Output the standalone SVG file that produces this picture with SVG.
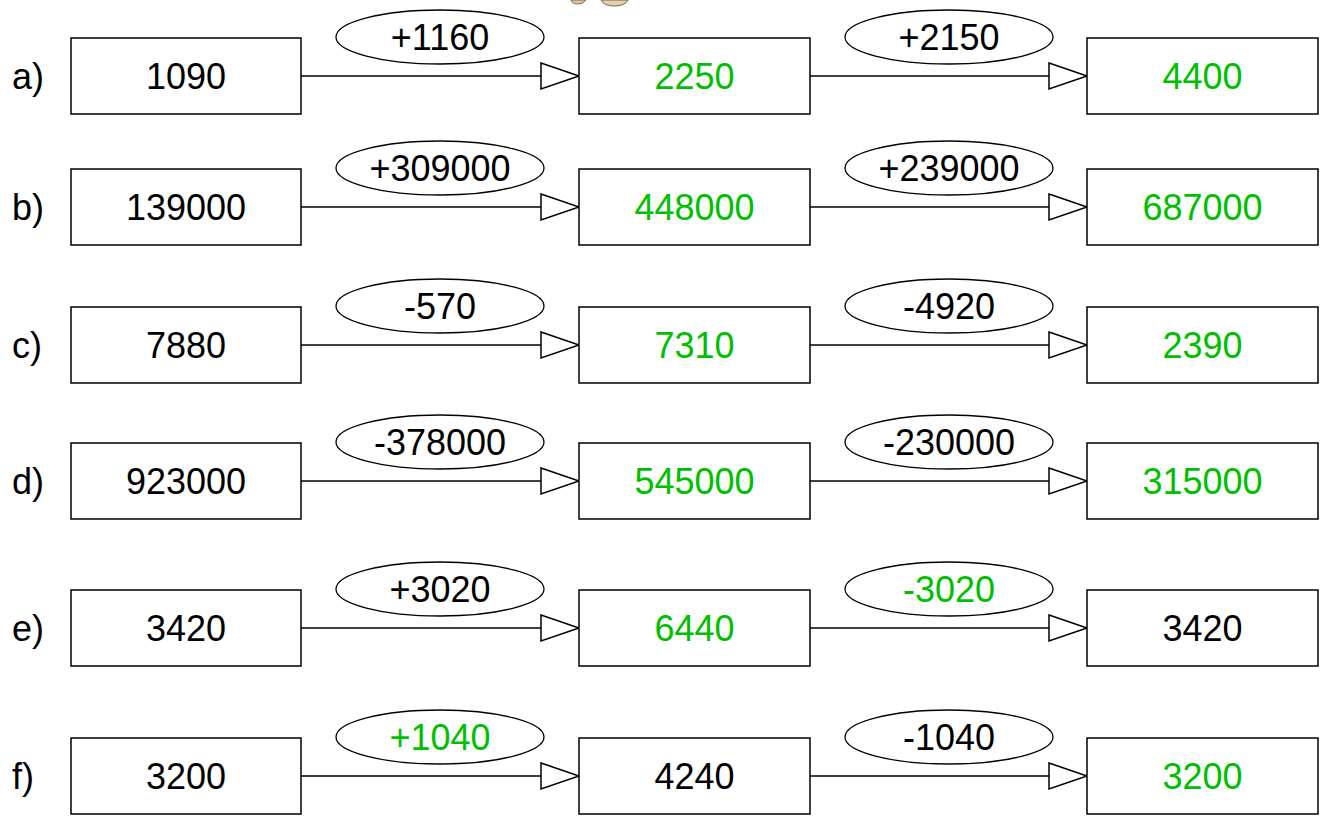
<svg xmlns="http://www.w3.org/2000/svg" width="1326" height="820" viewBox="0 0 1326 820">
<style>
text{font-family:"Liberation Sans",Arial,sans-serif;font-size:36px;fill:#000}
.c{text-anchor:middle}
.g{fill:#00bf00}
.box{fill:#fff;stroke:#000;stroke-width:1.5}
.op{fill:#fff;stroke:#000;stroke-width:1.3}
.ln{stroke:#000;stroke-width:1.5;fill:none;marker-end:url(#tri)}
</style>
<defs>
<marker id="tri" markerUnits="userSpaceOnUse" markerWidth="42" markerHeight="30" refX="39" refY="14" orient="auto">
<path d="M1,1 L39,14 L1,27 Z" fill="#fff" stroke="#000" stroke-width="1.5"/>
</marker>
</defs>
<rect width="1326" height="820" fill="#fff"/>
<g id="clipart">
<path d="M571,0 L586,0 Q584,4 578,4 Q572,4 571,0 Z" fill="#d9c7a2" stroke="#6b5a45" stroke-width="0.8"/>
<path d="M601,0 L628,0 Q625,6 614,6 Q604,6 601,0 Z" fill="#e3d1ac" stroke="#5a4a38" stroke-width="0.8"/>
</g>
<g id="connectors">
<line class="ln" x1="301" y1="76" x2="579" y2="76"/>
<line class="ln" x1="810" y1="76" x2="1087" y2="76"/>
<line class="ln" x1="301" y1="207" x2="579" y2="207"/>
<line class="ln" x1="810" y1="207" x2="1087" y2="207"/>
<line class="ln" x1="301" y1="345" x2="579" y2="345"/>
<line class="ln" x1="810" y1="345" x2="1087" y2="345"/>
<line class="ln" x1="301" y1="481" x2="579" y2="481"/>
<line class="ln" x1="810" y1="481" x2="1087" y2="481"/>
<line class="ln" x1="301" y1="628" x2="579" y2="628"/>
<line class="ln" x1="810" y1="628" x2="1087" y2="628"/>
<line class="ln" x1="301" y1="776" x2="579" y2="776"/>
<line class="ln" x1="810" y1="776" x2="1087" y2="776"/>
</g>
<g id="labels">
<text x="12" y="89">a)</text>
<text x="12" y="220">b)</text>
<text x="12" y="358">c)</text>
<text x="12" y="494">d)</text>
<text x="12" y="641">e)</text>
<text x="12" y="789">f)</text>
</g>
<g id="row-a">
<g id="a1"><rect class="box" x="71" y="38" width="230" height="76"/><text class="c" x="186" y="89">1090</text></g>
<g id="a-op1"><ellipse class="op" cx="440" cy="37" rx="104" ry="27"/><text class="c" x="440" y="50">+1160</text></g>
<g id="a2"><rect class="box" x="579" y="38" width="231" height="76"/><text class="c g" x="694.5" y="89">2250</text></g>
<g id="a-op2"><ellipse class="op" cx="949" cy="37" rx="104" ry="27"/><text class="c" x="949" y="50">+2150</text></g>
<g id="a3"><rect class="box" x="1087" y="38" width="231" height="76"/><text class="c g" x="1202.5" y="89">4400</text></g>
</g>
<g id="row-b">
<g id="b1"><rect class="box" x="71" y="169" width="230" height="76"/><text class="c" x="186" y="220">139000</text></g>
<g id="b-op1"><ellipse class="op" cx="440" cy="168" rx="104" ry="27"/><text class="c" x="440" y="181">+309000</text></g>
<g id="b2"><rect class="box" x="579" y="169" width="231" height="76"/><text class="c g" x="694.5" y="220">448000</text></g>
<g id="b-op2"><ellipse class="op" cx="949" cy="168" rx="104" ry="27"/><text class="c" x="949" y="181">+239000</text></g>
<g id="b3"><rect class="box" x="1087" y="169" width="231" height="76"/><text class="c g" x="1202.5" y="220">687000</text></g>
</g>
<g id="row-c">
<g id="c1"><rect class="box" x="71" y="307" width="230" height="76"/><text class="c" x="186" y="358">7880</text></g>
<g id="c-op1"><ellipse class="op" cx="440" cy="306" rx="104" ry="27"/><text class="c" x="440" y="319">-570</text></g>
<g id="c2"><rect class="box" x="579" y="307" width="231" height="76"/><text class="c g" x="694.5" y="358">7310</text></g>
<g id="c-op2"><ellipse class="op" cx="949" cy="306" rx="104" ry="27"/><text class="c" x="949" y="319">-4920</text></g>
<g id="c3"><rect class="box" x="1087" y="307" width="231" height="76"/><text class="c g" x="1202.5" y="358">2390</text></g>
</g>
<g id="row-d">
<g id="d1"><rect class="box" x="71" y="443" width="230" height="76"/><text class="c" x="186" y="494">923000</text></g>
<g id="d-op1"><ellipse class="op" cx="440" cy="442" rx="104" ry="27"/><text class="c" x="440" y="455">-378000</text></g>
<g id="d2"><rect class="box" x="579" y="443" width="231" height="76"/><text class="c g" x="694.5" y="494">545000</text></g>
<g id="d-op2"><ellipse class="op" cx="949" cy="442" rx="104" ry="27"/><text class="c" x="949" y="455">-230000</text></g>
<g id="d3"><rect class="box" x="1087" y="443" width="231" height="76"/><text class="c g" x="1202.5" y="494">315000</text></g>
</g>
<g id="row-e">
<g id="e1"><rect class="box" x="71" y="590" width="230" height="76"/><text class="c" x="186" y="641">3420</text></g>
<g id="e-op1"><ellipse class="op" cx="440" cy="589" rx="104" ry="27"/><text class="c" x="440" y="602">+3020</text></g>
<g id="e2"><rect class="box" x="579" y="590" width="231" height="76"/><text class="c g" x="694.5" y="641">6440</text></g>
<g id="e-op2"><ellipse class="op" cx="949" cy="589" rx="104" ry="27"/><text class="c g" x="949" y="602">-3020</text></g>
<g id="e3"><rect class="box" x="1087" y="590" width="231" height="76"/><text class="c" x="1202.5" y="641">3420</text></g>
</g>
<g id="row-f">
<g id="f1"><rect class="box" x="71" y="738" width="230" height="76"/><text class="c" x="186" y="789">3200</text></g>
<g id="f-op1"><ellipse class="op" cx="440" cy="737" rx="104" ry="27"/><text class="c g" x="440" y="750">+1040</text></g>
<g id="f2"><rect class="box" x="579" y="738" width="231" height="76"/><text class="c" x="694.5" y="789">4240</text></g>
<g id="f-op2"><ellipse class="op" cx="949" cy="737" rx="104" ry="27"/><text class="c" x="949" y="750">-1040</text></g>
<g id="f3"><rect class="box" x="1087" y="738" width="231" height="76"/><text class="c g" x="1202.5" y="789">3200</text></g>
</g>
</svg>
